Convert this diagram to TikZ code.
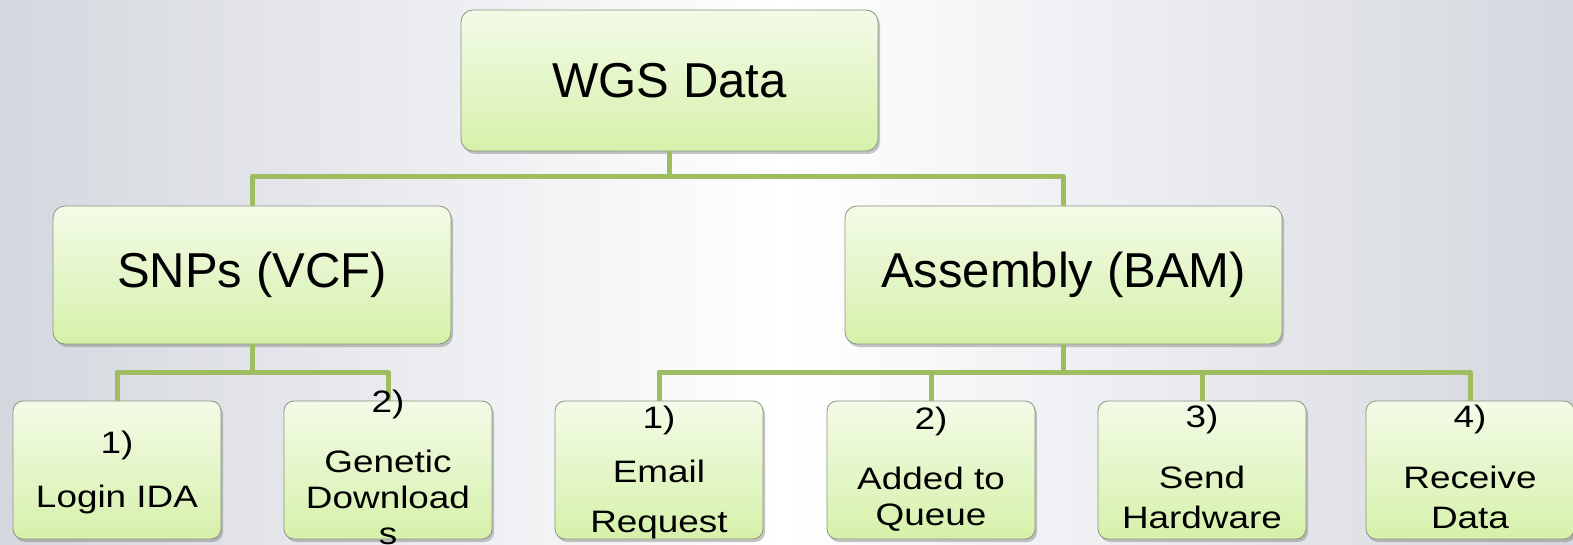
\documentclass[tikz,border=0pt]{standalone}
\usepackage{fontspec}
\setmainfont{Liberation Sans}
\newfontfamily\stretchfont{Liberation Sans}[FakeStretch=1.19]
\usetikzlibrary{shadows}
\definecolor{conn}{RGB}{158,189,96}
\definecolor{boxtop}{RGB}{243,251,232}
\definecolor{boxbot}{RGB}{214,241,170}
\definecolor{boxedge}{RGB}{140,148,128}
\definecolor{bgside}{RGB}{212,215,222}
\tikzset{
  boxbase/.style={draw=boxedge, line width=0.8pt, top color=boxtop, bottom color=boxbot,
    drop shadow={shadow xshift=2pt, shadow yshift=-3pt, opacity=0.45}, inner sep=0pt},
  bigbox/.style={boxbase, rounded corners=12pt, font=\fontsize{49}{59}\selectfont},
  smallbox/.style={boxbase, rounded corners=10pt, minimum width=208pt, minimum height=138pt},
  steptext/.style={font=\stretchfont\fontsize{31}{36}\selectfont, align=center, inner sep=0pt, anchor=base},
  conline/.style={draw=conn, line width=5pt, line join=round}
}
\begin{document}
\begin{tikzpicture}[x=1pt,y=-1pt]
\useasboundingbox (0,0) rectangle (1573,545);
\shade[left color=bgside, right color=bgside, middle color=white] (0,0) rectangle (1573,545);

% top level
\node[bigbox, minimum width=417pt, minimum height=141pt] (wgs) at (669.5,80.5) {WGS Data};
% second level
\node[bigbox, minimum width=398pt, minimum height=138pt] (snp) at (252,275) {SNPs (VCF)};
\node[bigbox, minimum width=437pt, minimum height=138pt] (asm) at (1063.5,275) {Assembly (BAM)};

% third level boxes
\node[smallbox] (b1) at (117,470) {};
\node[smallbox] (b2) at (388,470) {};
\node[smallbox] (b3) at (659,470) {};
\node[smallbox] (b4) at (931,470) {};
\node[smallbox] (b5) at (1202,470) {};
\node[smallbox] (b6) at (1470,470) {};

% connector junctions
\coordinate (j0) at (669.5,177);
\coordinate (j1) at (252,372);
\coordinate (j2) at (1063.5,372);

\draw[conline] (wgs.south) -- (j0) -| (snp.north);
\draw[conline] (j0) -| (asm.north);
\draw[conline] (snp.south) -- (j1) -| (b1.north);
\draw[conline] (j1) -| (b2.north);
\draw[conline] (asm.south) -- (j2) -| (b3.north);
\draw[conline] (j2) -| (b4.north);
\draw[conline] (j2) -| (b5.north);
\draw[conline] (j2) -| (b6.north);

% texts (anchor base = baseline of the last line)
\node[steptext] (t1) at (117,507) {1)\\[18pt]Login IDA};
\node[steptext] (t2) at (388,544) {2)\\[24pt]Genetic\\Download\\s};
\node[steptext] (t3) at (659,532) {1)\\[18pt]Email\\[14pt]Request};
\node[steptext] (t4) at (931,525) {2)\\[24pt]Added to\\Queue};
\node[steptext] (t5) at (1202,528) {3)\\[25pt]Send\\[4pt]Hardware};
\node[steptext] (t6) at (1470,528) {4)\\[25pt]Receive\\[4pt]Data};
\end{tikzpicture}
\end{document}
